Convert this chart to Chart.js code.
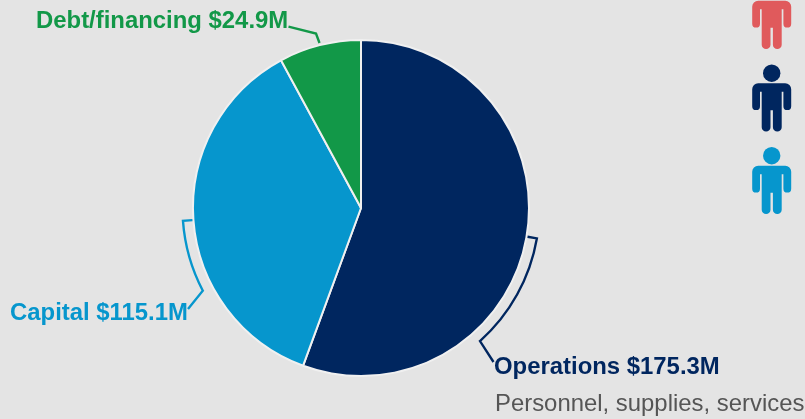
<!DOCTYPE html>
<html><head><meta charset="utf-8">
<style>html,body{margin:0;padding:0;background:#e4e4e4;overflow:hidden}#w{position:relative;width:805px;height:419px}</style>
<script src="https://cdn.jsdelivr.net/npm/chart.js@4/dist/chart.umd.js"></script>
</head><body><div id="w"><canvas id="c" width="805" height="419"></canvas></div>
<script>
const categories = ["Operations", "Capital", "Debt/financing"];
const amounts = [175.3, 115.1, 24.9];
const colors = ["#00265f", "#0696cd", "#129848"];
const subtitle = "Personnel, supplies, services";
const iconColors = ["#e05a5c", "#00265f", "#0696cd"];

function label(i){ return categories[i] + " $" + amounts[i].toFixed(1) + "M"; }

function person(ctx, cx, top, col){
  ctx.fillStyle = col;
  ctx.beginPath(); ctx.arc(cx, top - 10, 8.7, 0, Math.PI*2); ctx.fill();
  ctx.beginPath();
  ctx.moveTo(cx-14, top);
  ctx.lineTo(cx+14, top);
  ctx.arcTo(cx+19.5, top, cx+19.5, top+6, 6);
  ctx.lineTo(cx+19.5, top+23);
  ctx.arc(cx+15.6, top+23, 3.9, 0, Math.PI);
  ctx.lineTo(cx+11.7, top+8.5);
  ctx.lineTo(cx+10, top+8.5);
  ctx.lineTo(cx+10, top+44);
  ctx.arc(cx+5.6, top+44, 4.4, 0, Math.PI);
  ctx.lineTo(cx+1.2, top+27);
  ctx.lineTo(cx-1.2, top+27);
  ctx.lineTo(cx-1.2, top+44);
  ctx.arc(cx-5.6, top+44, 4.4, 0, Math.PI);
  ctx.lineTo(cx-10, top+8.5);
  ctx.lineTo(cx-11.7, top+8.5);
  ctx.lineTo(cx-11.7, top+23);
  ctx.arc(cx-15.6, top+23, 3.9, 0, Math.PI);
  ctx.lineTo(cx-19.5, top+6);
  ctx.arcTo(cx-19.5, top, cx-14, top, 6);
  ctx.closePath(); ctx.fill();
}

const annotate = {
  id: "annotate",
  afterDraw(chart){
    const ctx = chart.ctx;
    const arc = chart.getDatasetMeta(0).data[0];
    const cx = arc.x, cy = arc.y, R = arc.outerRadius;
    const pt = (deg, r) => { const a = (deg-90)*Math.PI/180; return [cx + r*Math.cos(a), cy + r*Math.sin(a)]; };
    ctx.save();
    ctx.lineWidth = 2.4; ctx.lineJoin = "miter";
    function bracket(col, d0, d1, endPt){
      ctx.strokeStyle = col;
      ctx.beginPath();
      ctx.moveTo(...pt(d0, R+1));
      ctx.lineTo(...pt(d0, R+10.5));
      ctx.arc(cx, cy, R+10.5, (d0-90)*Math.PI/180, (d1-90)*Math.PI/180, d1<d0);
      ctx.lineTo(...endPt);
      ctx.stroke();
    }
    bracket(colors[0], 99.8, 138.2, [493.5, 362]);
    bracket(colors[1], 265.9, 242.4, [188, 309]);
    ctx.strokeStyle = colors[2];
    ctx.beginPath(); ctx.moveTo(288.5,26.7); ctx.lineTo(316,33.5); ctx.lineTo(319.5,43); ctx.stroke();

    ctx.textBaseline = "alphabetic";
    ctx.font = "bold 23.9px 'Liberation Sans'";
    ctx.fillStyle = colors[2]; ctx.fillText(label(2), 36, 28);
    ctx.fillStyle = colors[1]; ctx.fillText(label(1), 10, 320);
    ctx.fillStyle = colors[0]; ctx.fillText(label(0), 494, 374);
    ctx.font = "23.9px 'Liberation Sans'";
    ctx.fillStyle = "#555555"; ctx.fillText(subtitle, 495, 411);

    iconColors.forEach((c,i)=>person(ctx, 771.7, 0.7 + i*82.5, c));
    ctx.restore();
  }
};

new Chart(document.getElementById("c"), {
  type: "pie",
  data: { labels: categories, datasets: [{ data: amounts, backgroundColor: colors, borderColor: "#f0f0f0", borderWidth: 2, hoverOffset: 0 }] },
  options: {
    responsive: false, animation: false, devicePixelRatio: 1,
    layout: { padding: { left: 192, right: 275, top: 39, bottom: 42 } },
    plugins: { legend: { display: false }, tooltip: { enabled: false } }
  },
  plugins: [annotate]
});
</script></body></html>
